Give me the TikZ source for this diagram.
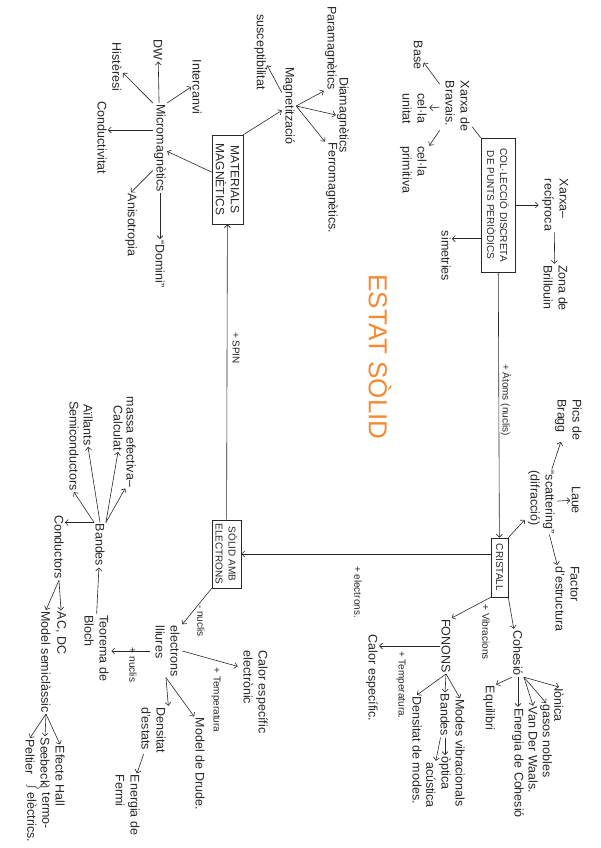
\documentclass[tikz,border=0pt]{standalone}
\usepackage{fontspec}
\setmainfont{Liberation Sans}
\usepackage{graphicx}
\usepackage{xcolor}
\usetikzlibrary{arrows.meta,positioning,calc}
\definecolor{ink}{RGB}{40,40,40}
\definecolor{titleorange}{RGB}{247,137,50}
\newcommand{\dues}[2]{\begin{tabular}{@{}l@{}}#1\\#2\end{tabular}}
\newcommand{\vt}[1]{\rotatebox{-90}{#1}}

\begin{document}
\begin{tikzpicture}[
  x=1pt, y=-1pt, line width=0.6pt, color=ink,
  box/.style={draw, rotate=-90, align=center, inner sep=2pt, font=\fontsize{10}{13}\selectfont},
  word/.style={inner sep=1pt, font=\fontsize{12.5}{15}\selectfont},
  lbl/.style={rotate=-90, inner sep=1pt, font=\fontsize{10}{12}\selectfont},
  ttl/.style={rotate=-90, text=titleorange, font=\fontsize{26}{28}\selectfont},
  arr/.style={-{Straight Barb[length=3pt,width=6pt]}}
]
  \path[use as bounding box, fill=white] (0,0) rectangle (600,848);
  \node[ttl] (title) at (380,357) {ESTAT SÒLID};

  % xarxa
  \node[box, minimum width=134pt, minimum height=34pt] (col) at (498,205) {COL·LECCIÓ DISCRETA\\DE PUNTS PERIÒDICS};
  \node[word] (bravais) at (456,106) {\vt{\dues{Xarxa de}{Bravais.}}};
  \node[word] (base) at (418,55) {\vt{Base}};
  \node[word] (unitat) at (413,109) {\vt{\dues{cel·la}{unitat}}};
  \node[word] (primitiva) at (413,170) {\vt{\dues{cel·la}{primitiva}}};
  \node[word] (reciproca) at (555,205) {\vt{\dues{Xarxa–}{recíproca}}};
  \node[word] (brillouin) at (554,288) {\vt{\dues{Zona de}{Brillouin}}};
  \node[word] (simetries) at (446,256) {\vt{simetries}};
  \draw (col.south west) -- (bravais);
  \draw[arr] (bravais) -- (base);
  \draw[arr] (bravais) -- (unitat);
  \draw[arr] (bravais) -- (primitiva);
  \draw[arr] (col) -- (reciproca);
  \draw[arr] (reciproca) -- (brillouin);
  \draw[arr] ($(col.south)!0.5!(col.south east)$) coordinate (sim) -- (sim -| simetries.east);

  % cristall
  \node[box, minimum width=59pt, minimum height=17pt] (cristall) at (499.5,567.5) {CRISTALL};
  \node[lbl] (atoms) at (506,400) {+ Àtoms (nuclis)};
  \draw[arr] (col) -- (cristall);
  \node[word] (scattering) at (541,502) {\vt{\dues{“scattering”}{(difracció)}}};
  \node[word] (bragg) at (568,420) {\vt{\dues{Pics de}{Bragg}}};
  \node[word] (laue) at (576,500) {\vt{Laue}};
  \node[word] (factor) at (566,599) {\vt{\dues{Factor}{d'estructura}}};
  \draw[arr] (cristall.north west) -- (scattering);
  \draw[arr] (scattering) -- (bragg);
  \draw[arr] (scattering) -- (laue);
  \draw[arr] (scattering) -- (factor);

  \node[word] (cohesio) at (518,653) {\vt{Cohesió}};
  \node[word] (energia) at (518,763) {\vt{Energia de Cohesió}};
  \node[word] (vdw) at (533,750) {\vt{Van Der Waals.}};
  \node[word] (gasos) at (546,741) {\vt{gasos nobles}};
  \node[word] (ionica) at (559,705) {\vt{Iònica}};
  \node[word] (equilibri) at (489,708) {\vt{Equilibri}};
  \draw[arr] (cristall.north east) -- (cohesio);
  \draw[arr] (cohesio) -- (energia);
  \draw[arr] (cohesio.south east) -- (vdw.north);
  \draw[arr] (cohesio.south east) -- (gasos.north);
  \draw[arr] (cohesio.south east) -- (ionica.north);
  \draw[arr] (cohesio.south west) -- (equilibri.north east);

  \node[word] (fonons) at (446,646) {\vt{FONONS}};
  \node[lbl] (vibracions) at (486,632) {+ Vibracions};
  \node[word] (calor) at (372,678) {\vt{Calor específic.}};
  \node[lbl] (temperatura) at (401,685) {+ Temperatura.};
  \node[word] (modes) at (460,753) {\vt{Modes vibracionals}};
  \node[word] (bandesfon) at (445,715) {\vt{Bandes}};
  \node[word] (densmodes) at (417,750) {\vt{Densitat de modes.}};
  \node[word] (optica) at (445,773) {\vt{òptica}};
  \node[word] (acustica) at (431,785) {\vt{acústica}};
  \draw[arr] (cristall.south east) -- (fonons.north east);
  \draw[arr] (fonons.west) -- (fonons.west -| calor.east);
  \draw[arr] (fonons.south) -- (modes.north);
  \draw[arr] (fonons.south) -- (bandesfon.north);
  \draw[arr] (fonons.south) -- (densmodes.north);
  \draw[arr] (bandesfon) -- (optica);
  \draw[arr] (bandesfon) -- (acustica);

  % electrons i magnetisme
  \node[box, minimum width=68pt, minimum height=29pt] (solid) at (226.5,554) {SÒLID AMB\\ELECTRONS};
  \node[lbl] (electrons) at (358,592) {+ electrons.};
  \draw[arr] (solid -| cristall.south) -- (solid);
  \node[box, minimum width=89pt, minimum height=31pt, font=\fontsize{12}{15}\selectfont] (magn) at (227.5,179.5) {MATERIALS\\MAGNÈTICS};
  \node[lbl] (spin) at (236,348) {+ SPIN};
  \draw[arr] (solid) -- (magn);

  \node[word] (magnetitzacio) at (289,106) {\vt{Magnetització}};
  \node[word] (para) at (331,48) {\vt{Paramagnètics}};
  \node[word] (dia) at (343,115) {\vt{Diamagnètics}};
  \node[word] (ferro) at (332,188) {\vt{Ferromagnètics.}};
  \node[word] (suscept) at (260,52) {\vt{susceptibilitat}};
  \draw[arr] (magn.north west) -- (magnetitzacio);
  \draw[arr] (magnetitzacio.east) -- (para.south west);
  \draw[arr] (magnetitzacio.east) -- (dia.west);
  \draw[arr] (magnetitzacio.east) -- (ferro.north west);
  \draw[arr] (magnetitzacio) -- (suscept);

  \node[word] (micro) at (160,148) {\vt{Micromagnètics}};
  \node[word] (dw) at (158,50) {\vt{DW}};
  \node[word] (intercanvi) at (197,87) {\vt{Intercanvi}};
  \node[word] (histeresi) at (117,67) {\vt{Histèresi}};
  \node[word] (conductivitat) at (102,138) {\vt{Conductivitat}};
  \node[word] (anisotropia) at (131,225) {\vt{Anisotropia}};
  \node[word] (domini) at (160,264) {\vt{“Domini”}};
  \draw[arr] (magn) -- (micro);
  \draw[arr] (micro) -- (dw);
  \draw[arr] (micro.north east) -- (intercanvi.west);
  \draw[arr] (micro.north west) -- (histeresi);
  \draw[arr] ($(micro.north west)!0.6!(micro.west)$) coordinate (cond) -- (cond -| conductivitat.east);
  \draw[arr] ($(micro.west)!0.5!(micro.south west)$) -- (anisotropia.north);
  \draw[arr] (micro) -- (domini);

  \node[lbl] (menysnuclis) at (201,621) {- nuclis};
  \node[word] (lliures) at (166,651) {\vt{\dues{electrons}{lliures}}};
  \node[lbl] (mesnuclis) at (133,665) {+ nuclis};
  \node[word] (bloch) at (95,648) {\vt{\dues{Teorema de}{Bloch}}};
  \draw[arr] (solid.south east) -- (lliures.north east);
  \draw[arr] (lliures.west) -- (lliures.west -| bloch.east);

  \node[word] (bandes) at (100,545) {\vt{Bandes}};
  \node[word] (massa) at (131,442) {\vt{massa efectiva–}};
  \node[word] (calculat) at (118,428) {\vt{Calculat}};
  \node[word] (aillants) at (88,425) {\vt{Aïllants}};
  \node[word] (semicond) at (74,446) {\vt{Semiconductors}};
  \node[word] (conductors) at (59,547) {\vt{Conductors}};
  \draw[arr] (bloch) -- (bandes);
  \draw[arr] (bandes.north east) -- (massa.south west);
  \draw[arr] (bandes.north east) -- (calculat.south);
  \draw[arr] (bandes.north) -- (aillants.south);
  \draw[arr] (bandes.north west) -- (semicond.south);
  \draw[arr] (bandes.north west) -- (bandes.north west -| conductors.east);

  \node[word] (acdc) at (61,633) {\vt{AC, DC}};
  \node[word] (model) at (46,662) {\vt{Model semiclàssic}};
  \node[word] (hall) at (60,776) {\vt{Efecte Hall}};
  \node[word] (seebeck) at (45,762) {\vt{Seebeck}};
  \node[word] (peltier) at (30,757) {\vt{Peltier}};
  \node[word] (termo) at (38,812) {\vt{$\left.\vrule height 16pt depth 10pt width 0pt\right\}$\,\dues{termo-}{elèctrics.}}};
  \draw[arr] (conductors.south) -- (acdc.north);
  \draw[arr] (conductors.south) -- (model.north);
  \draw[arr] (model.south) -- (hall.north);
  \draw[arr] (model.south) -- (seebeck.north);
  \draw[arr] (model.south) -- (peltier.north);

  \node[word] (calorelec) at (254,692) {\vt{\dues{Calor específic}{electrònic}}};
  \node[lbl] (tempelec) at (216,700) {+ Temperatura};
  \node[word] (drude) at (200,764) {\vt{Model de Drude.}};
  \node[word] (densitat) at (152,730) {\vt{\dues{Densitat}{d'estats}}};
  \node[word] (fermi) at (126,805) {\vt{\dues{Energia de}{Fermi}}};
  \draw[arr] (lliures.east) -- ($(calorelec.north west)!0.4!(calorelec.west)$);
  \draw[arr] (lliures.south) -- (drude.north west);
  \draw[arr] (lliures.south) -- (densitat.north east);
  \draw[arr] (densitat) -- (fermi);
\end{tikzpicture}
\end{document}
